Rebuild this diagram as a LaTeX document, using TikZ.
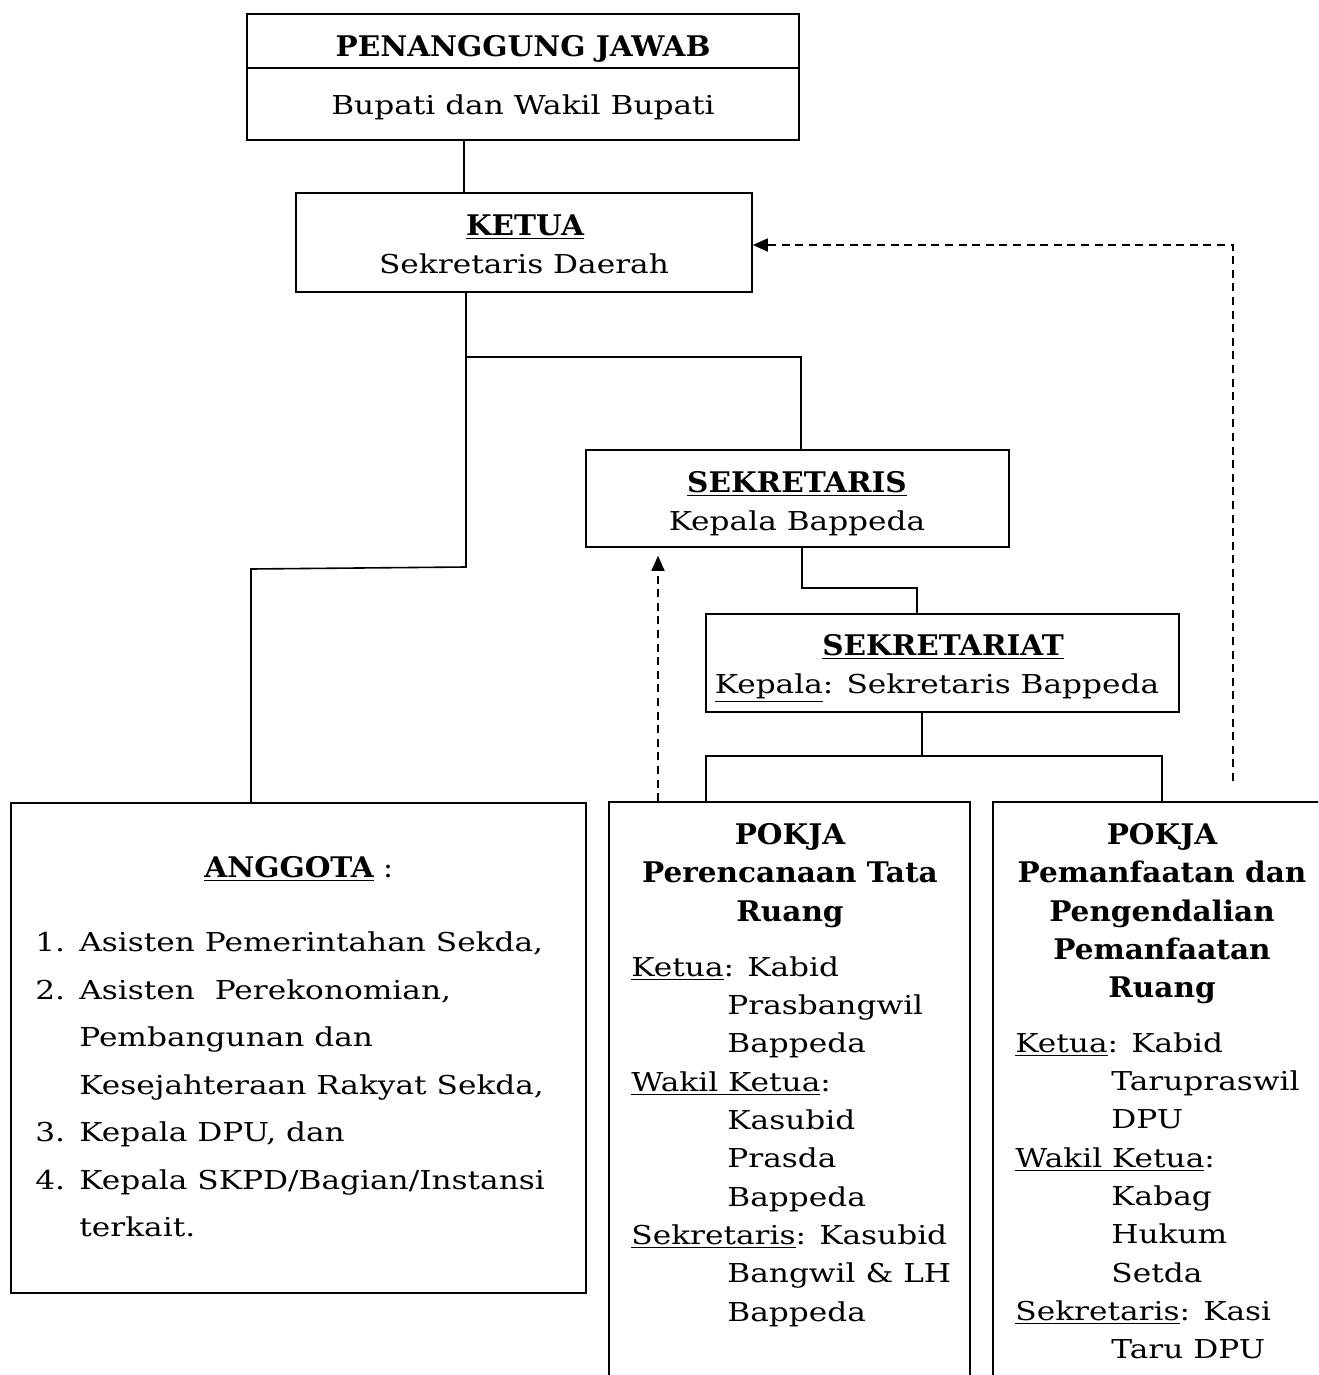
\documentclass[tikz,border=0pt]{standalone}
\usepackage{fontspec}
\setmainfont{DejaVu Serif}[FakeStretch=1.2]
\newfontfamily\titlefont{DejaVu Serif}[FakeStretch=1.04]
\usetikzlibrary{arrows.meta,fit}
\tikzset{
  boxline/.style={draw, line width=0.8pt, inner sep=0pt},
  conn/.style={line width=0.8pt},
  dashconn/.style={line width=0.8pt, dash pattern=on 4pt off 2.8pt,
    -{Triangle[length=7.5pt,width=6.5pt]}},
  txt/.style={inner sep=0pt, anchor=base, font=\fontsize{13}{19.15}\selectfont},
  ttl/.style={inner sep=0pt, anchor=base, font=\titlefont\bfseries\fontsize{14.2}{19.15}\selectfont},
  pokjattl/.style={inner sep=0pt, anchor=north, align=center,
    font=\titlefont\bfseries\fontsize{14.2}{19.15}\selectfont, execute at begin node=\strut},
  pokjalist/.style={inner sep=0pt, anchor=north west, align=left,
    font=\fontsize{13}{19.15}\selectfont, execute at begin node=\strut},
  anglist/.style={inner sep=0pt, anchor=north west, align=left,
    font=\fontsize{13}{23.75}\selectfont, execute at begin node=\strut},
}
\newcommand{\ind}{\hspace*{48pt}}
\newcommand{\num}[1]{\makebox[22pt][l]{#1}}
\begin{document}
\begin{tikzpicture}[x=0.5pt,y=-0.5pt]
\useasboundingbox (0,0) rectangle (1318,1375);
\clip (0,0) rectangle (1318,1375);
\fill[white] (0,0) rectangle (1318,1375);

% boxes
\node[boxline, fit={(247,14) (799,140)}] (pj) {};
\draw[conn] (pj.west |- 0,68) -- (pj.east |- 0,68);
\node[boxline, fit={(296,193) (752,292)}] (ketua) {};
\node[boxline, fit={(586,450) (1009,547)}] (sek) {};
\node[boxline, fit={(706,614) (1179,712)}] (sekt) {};
\node[boxline, fit={(11,803) (586,1293)}] (ang) {};
\node[boxline, fit={(609,802) (970,1420)}] (p1) {};
\node[boxline, fit={(993,802) (1345,1420)}] (p2) {};

% texts
\node[ttl] (pjt) at (523,57) {PENANGGUNG JAWAB};
\node[txt] (pjn) at (523,115) {Bupati dan Wakil Bupati};
\node[ttl] (kt) at (525,235) {\underline{KETUA}};
\node[txt] (kn) at (524,273) {Sekretaris Daerah};
\node[ttl] (st) at (797,492) {\underline{SEKRETARIS}};
\node[txt] (sn) at (797,530) {Kepala Bappeda};
\node[ttl] (sat) at (943,655) {\underline{SEKRETARIAT}};
\node[txt] (san) at (937,693) {\underline{Kepala}: Sekretaris Bappeda};

\node[ttl, anchor=base west] (angt) at (204,877) {\underline{ANGGOTA}\mdseries\ :};
\node[anglist] (angl) at (35,931.75) {%
\num{1.}Asisten Pemerintahan Sekda,\\
\num{2.}Asisten\ \ Perekonomian,\\
\hspace*{22pt}Pembangunan dan\\
\hspace*{22pt}Kesejahteraan Rakyat Sekda,\\
\num{3.}Kepala DPU, dan\\
\num{4.}Kepala SKPD/Bagian/Instansi\\
\hspace*{22pt}terkait.};

\node[pokjattl] (p1t) at (790,823.2) {POKJA\\Perencanaan Tata\\Ruang};
\node[pokjalist] (p1l) at (631,956.2) {%
\underline{Ketua}: Kabid\\
\ind Prasbangwil\\
\ind Bappeda\\
\underline{Wakil Ketua}:\\
\ind Kasubid\\
\ind Prasda\\
\ind Bappeda\\
\underline{Sekretaris}: Kasubid\\
\ind Bangwil \& LH\\
\ind Bappeda};

\node[pokjattl] (p2t) at (1162,823.2) {POKJA\\Pemanfaatan dan\\Pengendalian\\Pemanfaatan\\Ruang};
\node[pokjalist] (p2l) at (1015,1032.2) {%
\underline{Ketua}: Kabid\\
\ind Tarupraswil\\
\ind DPU\\
\underline{Wakil Ketua}:\\
\ind Kabag\\
\ind Hukum\\
\ind Setda\\
\underline{Sekretaris}: Kasi\\
\ind Taru DPU};

% connectors
\draw[conn] (pj.south -| 464,0) -- (ketua.north -| 464,0);
\draw[conn] (ketua.south -| 466,0) -- (466,357) -- (801,357) -- (sek.north -| 801,0);
\draw[conn] (466,357) -- (466,567) -- (251,569) -- (ang.north -| 251,0);
\draw[conn] (sek.south -| 802,0) -- (802,588) -- (917,588) -- (sekt.north -| 917,0);
\draw[conn] (sekt.south -| 922,0) -- (922,756);
\draw[conn] (p1.north -| 706,0) -- (706,756) -- (1162,756) -- (p2.north -| 1162,0);

% dashed feedback arrows
\draw[dashconn, shorten >=4pt] (p1.north -| 658,0) -- (sek.south -| 658,0);
\coordinate (d2) at (1233,781);
\draw[dashconn] (d2) |- (ketua.east |- 0,245);
\end{tikzpicture}
\end{document}
